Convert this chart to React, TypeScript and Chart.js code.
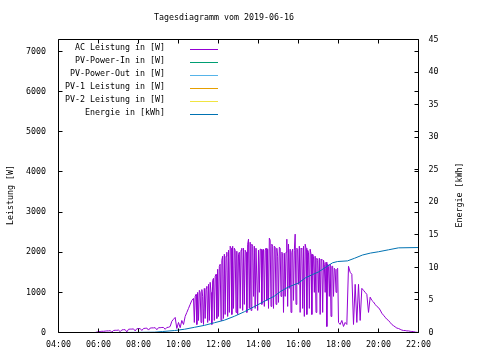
import React, { useEffect, useRef } from "react";
import { Chart, registerables } from "chart.js";

Chart.register(...registerables);

const titleText = "Tagesdiagramm vom 2019-06-16";
const leftAxisTitle = "Leistung [W]";
const rightAxisTitle = "Energie [kWh]";

const seriesLabels = [
  "AC Leistung in [W]",
  "PV-Power-In in [W]",
  "PV-Power-Out in [W]",
  "PV-1 Leistung in [W]",
  "PV-2 Leistung in [W]",
  "Energie in [kWh]",
];
const seriesColors = ["#9400d3", "#009e73", "#56b4e9", "#e69f00", "#f0e442", "#0072b2"];

const xTickHours = [4, 6, 8, 10, 12, 14, 16, 18, 20, 22];
const leftTicks = [0, 1000, 2000, 3000, 4000, 5000, 6000, 7000];
const rightTicks = [0, 5, 10, 15, 20, 25, 30, 35, 40, 45];
const leftMax = 7300;
const rightMax = 45;

// AC Leistung [W] — morning, every 5 min from 05:50
const acMorningStart = "05:50";
const acMorningStep = 5;
const acMorningWatts = [
  0, 10,
  20, 25, 30, 30, 35, 40, 40, 45, 10, 50, 55, 55,
  60, 20, 65, 70, 70, 15, 80, 85, 85, 90, 40, 95,
  95, 100, 50, 100, 105, 110, 60, 110, 115, 115, 120, 70,
  120, 120, 125, 125, 80, 125, 130, 150, 280, 330, 375, 100,
  250, 120, 300, 200, 400, 500, 600, 700, 800,
];

// AC Leistung [W] — midday, every 2.5 min from 10:45
const acMiddayStart = "10:45";
const acMiddayStep = 2.5;
const acMiddayWatts = [
  850, 250, 900, 950, 200, 1000, 300, 1050, 1000, 250, 1070, 900,
  200, 1100, 350, 1100, 1150, 250, 1200, 300, 1250, 1000, 200, 1300,
  1350, 300, 1400, 1450, 350, 1575, 400, 1650, 1700, 300, 1800, 1900,
  350, 1950, 450, 1900, 2000, 400, 2050, 500, 2150, 2100, 450, 2150,
  600, 2100, 2050, 500, 2025, 450, 1950, 2000, 600, 2050, 2100, 550,
  2100, 700, 2050, 2000, 500, 2200, 2325, 600, 2250, 550, 2200, 2150,
  900, 2150, 600, 2100, 2100, 550, 2050, 1000, 2075, 2075, 700, 2050,
  2075, 650, 2050, 2100, 800, 2075, 600, 2350, 2300, 650, 2200, 2150,
  600, 2150, 2125, 700, 2100, 1900, 750, 2125, 2100, 900, 2000, 1975,
  500, 1975, 900, 2000, 2325, 650, 2200, 1100, 2075, 500, 2000, 2075,
  800, 2050, 2450, 700, 2100, 2075, 1200, 2150, 500, 2100, 2075, 600,
  2150, 400, 2200, 2100, 450, 2050, 2000, 600, 2075, 1950, 450, 1950,
  1900, 1000, 1900, 500, 1850, 1800, 1000, 1850, 450, 1825, 1800, 500,
  1800, 1700, 1000, 1750, 150, 1700, 1650, 900, 1700, 400, 1650, 1650,
  900, 1600, 1575, 1000, 1575, 1600,
];

// AC Leistung [W] — evening, every 5 min from 18:00
const acEveningStart = "18:00";
const acEveningStep = 5;
const acEveningWatts = [
  250, 200, 300, 150, 250, 200, 1650, 1500, 1450, 200, 1200, 250,
  1200, 300, 1100, 1050, 1000, 950, 500, 880, 800, 760, 700, 650,
  620, 560, 480, 430, 380, 330, 300, 250, 200, 170, 140, 110,
  100, 80, 60, 50, 50, 40, 40, 30, 25, 25, 10, 5,
  0,
];

// Energie [kWh]
const energyTimes = [
  "07:15", "08:00", "08:48", "09:12", "09:48", "10:18", "10:48", "11:18", "11:48",
  "12:18", "12:48", "13:18", "13:48", "14:18", "14:48", "15:06", "15:30", "15:45",
  "16:00", "16:21", "16:42", "17:00", "17:21", "17:42", "17:57", "18:27", "18:48",
  "19:12", "19:36", "20:00", "20:30", "21:00", "22:00",
];
const energyKWh = [
  0, 0.02, 0.05, 0.15, 0.3, 0.5, 0.8, 1.1, 1.5,
  1.9, 2.5, 3.2, 4.0, 4.8, 5.6, 6.3, 7.0, 7.3,
  7.6, 8.4, 8.9, 9.3, 10.0, 10.7, 10.9, 11.0, 11.4,
  11.9, 12.2, 12.4, 12.7, 13.0, 13.05,
];

const FONT_FAMILY = "'DejaVu Sans Mono', monospace";
const FONT_SIZE = 8.3;

function toHours(t: string): number {
  const [h, m] = t.split(":").map(Number);
  return h + m / 60;
}

function fmtHour(v: number): string {
  const h = Math.round(v);
  return (h < 10 ? "0" : "") + h + ":00";
}

function segment(start: string, stepMin: number, values: number[]) {
  const s = toHours(start);
  return values.map((w, i) => ({ x: s + (i * stepMin) / 60, y: w }));
}

const framePlugin = {
  id: "gnuplotFrame",
  afterDraw(chart: any) {
    const { ctx, chartArea, scales } = chart;
    const { left, right, top, bottom } = chartArea;
    const T = 4;
    const snap = (v: number) => Math.round(v - 0.5) + 0.5;
    ctx.save();
    ctx.strokeStyle = "#000";
    ctx.lineWidth = 1;
    ctx.beginPath();
    ctx.rect(left, top, right - left, bottom - top);
    scales.x.ticks.forEach((t: any) => {
      const px = snap(scales.x.getPixelForValue(t.value));
      ctx.moveTo(px, bottom);
      ctx.lineTo(px, bottom - T);
      ctx.moveTo(px, top);
      ctx.lineTo(px, top + T);
    });
    scales.y.ticks.forEach((t: any) => {
      const py = snap(scales.y.getPixelForValue(t.value));
      ctx.moveTo(left, py);
      ctx.lineTo(left + T, py);
      ctx.moveTo(right, py);
      ctx.lineTo(right - T, py);
    });
    scales.y2.ticks.forEach((t: any) => {
      const py = snap(scales.y2.getPixelForValue(t.value));
      ctx.moveTo(right, py);
      ctx.lineTo(right - T, py);
    });
    ctx.stroke();

    ctx.fillStyle = "#000";
    ctx.font = `${FONT_SIZE}px ${FONT_FAMILY}`;
    ctx.textBaseline = "middle";
    ctx.textAlign = "center";
    ctx.fillText(titleText, 224, 18);

    ctx.save();
    ctx.translate(11, 195);
    ctx.rotate(-Math.PI / 2);
    ctx.fillText(leftAxisTitle, 0, 0);
    ctx.restore();

    ctx.save();
    ctx.translate(460, 195);
    ctx.rotate(-Math.PI / 2);
    ctx.fillText(rightAxisTitle, 0, 0);
    ctx.restore();

    // key
    chart.data.datasets.forEach((ds: any, i: number) => {
      const ty = top + 8 + i * 13;
      ctx.textAlign = "right";
      ctx.fillStyle = "#000";
      ctx.fillText(ds.label, 165, ty);
      const ly = snap(ty + 2);
      ctx.strokeStyle = ds.borderColor;
      ctx.beginPath();
      ctx.moveTo(190, ly);
      ctx.lineTo(218, ly);
      ctx.stroke();
    });
    ctx.restore();
  },
};

export default function App() {
  const ref = useRef<HTMLCanvasElement | null>(null);

  useEffect(() => {
    if (!ref.current) return;
    const acPoints = [
      ...segment(acMorningStart, acMorningStep, acMorningWatts),
      ...segment(acMiddayStart, acMiddayStep, acMiddayWatts),
      ...segment(acEveningStart, acEveningStep, acEveningWatts),
    ];
    const energyPoints = energyTimes.map((t, i) => ({ x: toHours(t), y: energyKWh[i] }));

    const font = { family: FONT_FAMILY, size: FONT_SIZE };
    const datasets: any[] = seriesLabels.map((label, i) => ({
      label,
      data: i === 0 ? acPoints : i === 5 ? energyPoints : [],
      borderColor: seriesColors[i],
      backgroundColor: seriesColors[i],
      borderWidth: 1,
      pointRadius: 0,
      tension: 0,
      fill: false,
      yAxisID: i === 5 ? "y2" : "y",
      order: i === 5 ? 0 : 1,
    }));

    const chart = new Chart(ref.current, {
      type: "line",
      data: { datasets },
      options: {
        animation: false,
        responsive: false,
        events: [],
        layout: { padding: { top: 39.5, left: 0, right: 0, bottom: 0 } },
        plugins: {
          legend: { display: false },
          tooltip: { enabled: false },
          title: { display: false },
        },
        scales: {
          x: {
            type: "linear",
            min: 4,
            max: 22,
            afterFit: (s: any) => {
              s.height = 27.5;
            },
            afterBuildTicks: (s: any) => {
              s.ticks = xTickHours.map((v) => ({ value: v }));
            },
            ticks: {
              callback: (v: any) => fmtHour(Number(v)),
              font,
              color: "#000",
              padding: 7,
              maxRotation: 0,
              autoSkip: false,
            },
            grid: { display: false, drawTicks: false },
            border: { display: false },
          },
          y: {
            type: "linear",
            position: "left",
            min: 0,
            max: leftMax,
            afterFit: (s: any) => {
              s.width = 58.5;
            },
            afterBuildTicks: (s: any) => {
              s.ticks = leftTicks.map((v) => ({ value: v }));
            },
            ticks: {
              callback: (v: any) => String(v),
              font,
              color: "#000",
              padding: 12.5,
              autoSkip: false,
            },
            grid: { display: false, drawTicks: false },
            border: { display: false },
          },
          y2: {
            type: "linear",
            position: "right",
            min: 0,
            max: rightMax,
            afterFit: (s: any) => {
              s.width = 61.5;
            },
            afterBuildTicks: (s: any) => {
              s.ticks = rightTicks.map((v) => ({ value: v }));
            },
            ticks: {
              callback: (v: any) => String(v),
              font,
              color: "#000",
              padding: 10,
              autoSkip: false,
            },
            grid: { display: false, drawTicks: false },
            border: { display: false },
          },
        },
      },
      plugins: [framePlugin],
    });
    return () => chart.destroy();
  }, []);

  return (
    <div style={{ position: "fixed", left: 0, top: 0, width: 480, height: 360, background: "#fff" }}>
      <canvas ref={ref} width={480} height={360} style={{ width: 480, height: 360, display: "block" }} />
    </div>
  );
}
